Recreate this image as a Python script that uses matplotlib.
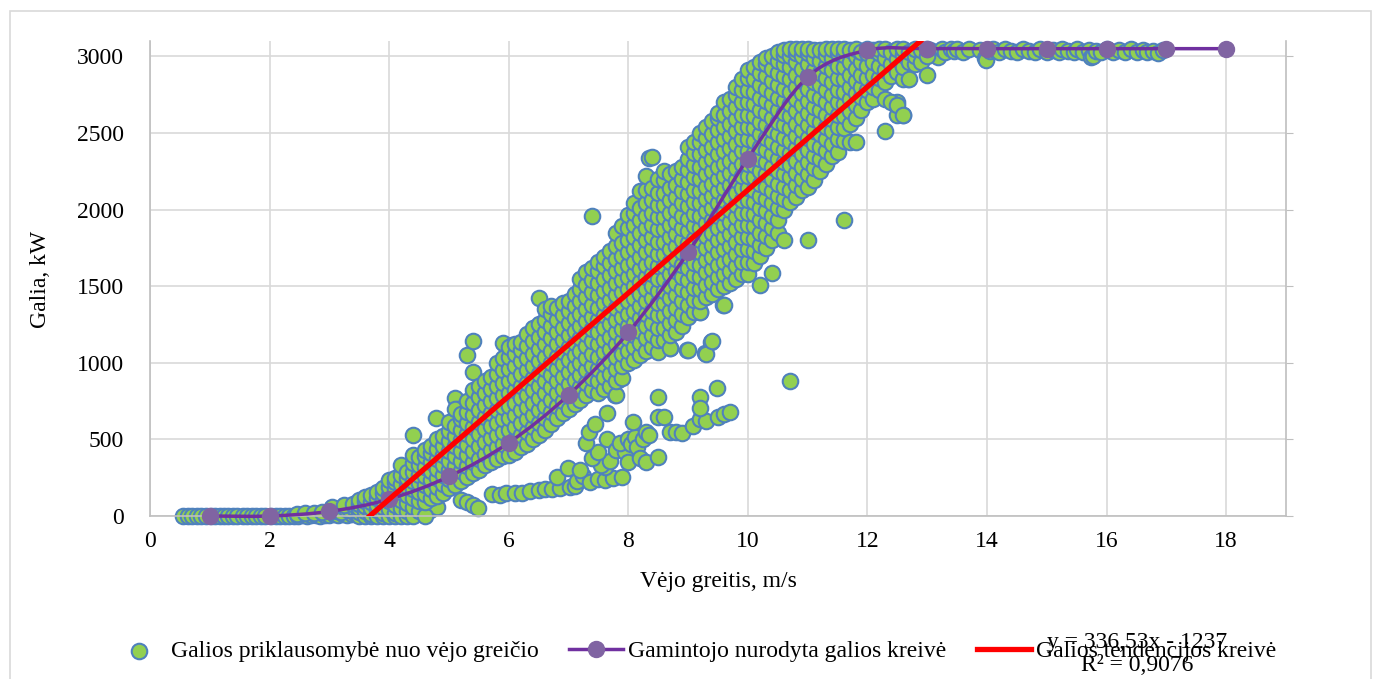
import numpy as np
import matplotlib
matplotlib.use('Agg')
import matplotlib.pyplot as plt
from matplotlib.path import Path
from matplotlib.patches import PathPatch, Rectangle
from matplotlib.lines import Line2D

plt.rcParams['font.family'] = ['Liberation Serif', 'DejaVu Serif']

# --- duomenys (nuskaityta nuo paveikslo) ---
# ramus vėjas: (greitis, galia)
calm_points = [
    (0.56, 0), (0.63, 0), (0.71, 0), (0.78, 0), (0.86, 0), (0.93, 0),
    (1.02, 0), (1.09, 0), (1.17, 0), (1.24, 0), (1.31, 0), (1.38, 0), (1.46, 0),
    (1.55, 0), (1.62, 0), (1.7, 0), (1.77, 0), (1.85, 0), (1.93, 0),
    (2.02, 0), (2.1, 0), (2.18, 0), (2.25, 2), (2.33, 0), (2.41, 3), (2.48, 0),
    (2.56, 5), (2.63, 0), (2.7, 4), (2.78, 6), (2.85, 3), (2.92, 8),
    (3.0, 5), (3.08, 10), (3.15, 6), (3.22, 12), (3.3, 8), (3.38, 15), (3.45, 10),
    (2.46, 15), (2.6, 20), (2.74, 18), (2.88, 28), (3.02, 30), (3.12, 35),
    (3.2, 25), (3.28, 45), (3.35, 40), (3.42, 55), (3.05, 60), (3.25, 70), (3.4, 80),
]

# pagrindinis debesis: greitis ir galios reikšmės ties juo
band_speed = [3.5, 3.6, 3.7, 3.8, 3.9, 4.0, 4.1, 4.2, 4.3, 4.4, 4.5, 4.6, 4.7, 4.8, 4.9,
              5.0, 5.1, 5.2, 5.3, 5.4, 5.5, 5.6, 5.7, 5.8, 5.9, 6.0, 6.1, 6.2, 6.3, 6.4,
              6.5, 6.6, 6.7, 6.8, 6.9, 7.0, 7.1, 7.2, 7.3, 7.4, 7.5, 7.6, 7.7, 7.8, 7.9,
              8.0, 8.1, 8.2, 8.3, 8.4, 8.5, 8.6, 8.7, 8.8, 8.9, 9.0, 9.1, 9.2, 9.3, 9.4,
              9.5, 9.6, 9.7, 9.8, 9.9, 10.0, 10.1, 10.2, 10.3, 10.4, 10.5, 10.6, 10.7,
              10.8, 10.9, 11.0, 11.1, 11.2, 11.3, 11.4, 11.5, 11.6, 11.7, 11.8, 11.9,
              12.0, 12.1, 12.2, 12.3, 12.4, 12.5, 12.6, 12.7, 12.8, 12.9, 13.0]
band_power = [
    [0, 25, 50, 80, 105],
    [0, 35, 65, 95, 125],
    [0, 15, 50, 90, 135],
    [0, 40, 75, 115, 155],
    [0, 20, 60, 105, 150, 185],
    [0, 45, 95, 140, 190, 235],
    [0, 20, 70, 125, 175, 220, 250],
    [0, 50, 105, 155, 210, 265, 330],
    [0, 30, 85, 140, 195, 245, 290],
    [0, 60, 120, 175, 230, 290, 345, 400],
    [30, 100, 155, 215, 270, 330, 385],
    [0, 90, 145, 200, 260, 320, 390, 430],
    [120, 175, 235, 295, 350, 410, 460],
    [130, 190, 250, 310, 370, 435, 500],
    [150, 210, 270, 330, 395, 455, 520],
    [180, 240, 300, 360, 425, 490, 555, 615],
    [200, 265, 325, 390, 455, 520, 585, 700],
    [230, 295, 360, 425, 495, 560, 630, 665],
    [255, 325, 395, 465, 535, 605, 680, 750],
    [280, 350, 425, 500, 580, 660, 740, 820, 940],
    [300, 375, 455, 535, 615, 695, 775, 850],
    [330, 405, 485, 565, 645, 725, 805, 880],
    [350, 430, 510, 590, 670, 750, 830, 910],
    [370, 450, 530, 610, 690, 770, 850, 930, 1000],
    [390, 470, 550, 630, 710, 790, 870, 950, 1030],
    [400, 480, 560, 640, 720, 800, 880, 960, 1040, 1105],
    [420, 500, 580, 660, 740, 820, 900, 980, 1060, 1120],
    [450, 530, 610, 690, 770, 850, 930, 1010, 1085, 1135],
    [470, 550, 630, 710, 790, 870, 950, 1030, 1110, 1190],
    [500, 580, 660, 740, 820, 900, 980, 1060, 1140, 1230],
    [530, 610, 690, 770, 850, 930, 1010, 1090, 1170, 1250],
    [560, 640, 720, 800, 880, 960, 1040, 1120, 1200, 1280, 1350],
    [600, 680, 760, 840, 920, 1000, 1080, 1160, 1240, 1320, 1370],
    [640, 720, 800, 880, 960, 1040, 1120, 1200, 1280, 1360],
    [670, 750, 830, 910, 990, 1070, 1150, 1230, 1310, 1390],
    [700, 780, 860, 940, 1020, 1100, 1180, 1260, 1340, 1405],
    [730, 810, 890, 970, 1050, 1130, 1210, 1290, 1370, 1450],
    [760, 840, 920, 1000, 1080, 1160, 1240, 1320, 1400, 1480, 1550],
    [790, 870, 950, 1030, 1110, 1190, 1270, 1350, 1430, 1510, 1590],
    [820, 900, 980, 1060, 1140, 1220, 1300, 1380, 1460, 1540, 1620],
    [800, 880, 960, 1040, 1120, 1200, 1280, 1360, 1440, 1520, 1600, 1660],
    [830, 910, 990, 1070, 1150, 1230, 1310, 1390, 1470, 1550, 1630, 1690],
    [850, 930, 1010, 1090, 1170, 1250, 1330, 1410, 1490, 1570, 1650, 1730],
    [790, 880, 960, 1040, 1120, 1200, 1280, 1360, 1440, 1520, 1600, 1680, 1760, 1850],
    [900, 980, 1060, 1140, 1220, 1300, 1380, 1460, 1540, 1620, 1700, 1780, 1890],
    [1000, 1080, 1160, 1240, 1320, 1400, 1480, 1560, 1640, 1720, 1800, 1880, 1965],
    [1020, 1100, 1180, 1260, 1340, 1420, 1500, 1580, 1660, 1740, 1820, 1900, 1980, 2040],
    [1050, 1130, 1210, 1290, 1370, 1450, 1530, 1610, 1690, 1770, 1850, 1930, 2010, 2120],
    [1080, 1160, 1240, 1320, 1400, 1480, 1560, 1640, 1720, 1800, 1880, 1960, 2040, 2130, 2220],
    [1100, 1180, 1260, 1340, 1420, 1500, 1580, 1660, 1740, 1820, 1900, 1980, 2060, 2140, 2340],
    [1070, 1150, 1230, 1310, 1390, 1470, 1550, 1630, 1710, 1790, 1870, 1950, 2030, 2110, 2200],
    [1150, 1230, 1310, 1390, 1470, 1550, 1630, 1710, 1790, 1870, 1950, 2030, 2110, 2190, 2250],
    [1095, 1180, 1260, 1340, 1420, 1500, 1580, 1660, 1740, 1820, 1900, 1980, 2060, 2140, 2230],
    [1200, 1280, 1360, 1440, 1520, 1600, 1680, 1760, 1840, 1920, 2000, 2080, 2160, 2250],
    [1240, 1320, 1400, 1480, 1560, 1640, 1720, 1800, 1880, 1960, 2040, 2120, 2200, 2280],
    [1085, 1300, 1380, 1460, 1540, 1620, 1700, 1780, 1860, 1940, 2020, 2100, 2180, 2260, 2330, 2410],
    [1330, 1410, 1490, 1570, 1650, 1730, 1810, 1890, 1970, 2050, 2130, 2210, 2290, 2370, 2440],
    [1333, 1400, 1480, 1560, 1640, 1720, 1800, 1880, 1960, 2040, 2120, 2200, 2280, 2360, 2440, 2500],
    [1060, 1430, 1510, 1590, 1670, 1750, 1830, 1910, 1990, 2070, 2150, 2230, 2310, 2390, 2470, 2540],
    [1140, 1450, 1530, 1610, 1690, 1770, 1850, 1930, 2010, 2090, 2170, 2250, 2330, 2410, 2490, 2580],
    [1480, 1560, 1640, 1720, 1800, 1880, 1960, 2040, 2120, 2200, 2280, 2360, 2440, 2520, 2600, 2630],
    [1380, 1500, 1580, 1660, 1740, 1820, 1900, 1980, 2060, 2140, 2220, 2300, 2380, 2460, 2540, 2620, 2700],
    [1520, 1600, 1680, 1760, 1840, 1920, 2000, 2080, 2160, 2240, 2320, 2400, 2480, 2560, 2640, 2720],
    [1550, 1630, 1710, 1790, 1870, 1950, 2030, 2110, 2190, 2270, 2350, 2430, 2510, 2590, 2670, 2750, 2800],
    [1580, 1660, 1740, 1820, 1900, 1980, 2060, 2140, 2220, 2300, 2380, 2460, 2540, 2620, 2700, 2780, 2850],
    [1580, 1660, 1740, 1820, 1900, 1980, 2060, 2140, 2220, 2300, 2380, 2460, 2540, 2620, 2700, 2780, 2860, 2910],
    [1650, 1730, 1810, 1890, 1970, 2050, 2130, 2210, 2290, 2370, 2450, 2530, 2610, 2690, 2770, 2850, 2930],
    [1507, 1700, 1770, 1850, 1930, 2010, 2090, 2170, 2250, 2330, 2410, 2490, 2570, 2650, 2730, 2810, 2890, 2960],
    [1750, 1830, 1910, 1990, 2070, 2150, 2230, 2310, 2390, 2470, 2550, 2630, 2710, 2790, 2870, 2950, 2990],
    [1584, 1800, 1880, 1960, 2040, 2120, 2200, 2280, 2360, 2440, 2520, 2600, 2680, 2760, 2840, 2920, 3000],
    [1850, 1930, 2010, 2090, 2170, 2250, 2330, 2410, 2490, 2570, 2650, 2730, 2810, 2890, 2970, 3030],
    [1800, 1995, 2070, 2150, 2230, 2310, 2390, 2470, 2550, 2630, 2710, 2790, 2870, 2950, 3010, 3040],
    [2050, 2130, 2210, 2290, 2370, 2450, 2530, 2610, 2690, 2770, 2850, 2930, 3000, 3045],
    [2080, 2160, 2240, 2320, 2400, 2480, 2560, 2640, 2720, 2800, 2880, 2960, 3020, 3050],
    [2125, 2200, 2280, 2360, 2440, 2520, 2600, 2680, 2760, 2840, 2920, 3000, 3050],
    [1800, 2150, 2230, 2310, 2390, 2470, 2550, 2630, 2710, 2790, 2870, 2950, 3020, 3050],
    [2190, 2270, 2350, 2430, 2510, 2590, 2670, 2750, 2830, 2910, 2990, 3040],
    [2250, 2330, 2410, 2490, 2570, 2650, 2730, 2810, 2890, 2970, 3040],
    [2300, 2380, 2460, 2540, 2620, 2700, 2780, 2860, 2940, 3010, 3050],
    [2350, 2430, 2510, 2590, 2670, 2750, 2830, 2910, 2990, 3045],
    [2377, 2460, 2540, 2620, 2700, 2780, 2860, 2940, 3020, 3050],
    [1931, 2450, 2530, 2610, 2690, 2770, 2850, 2930, 3010, 3050],
    [2442, 2560, 2640, 2720, 2800, 2880, 2960, 3040],
    [2442, 2600, 2680, 2760, 2840, 2920, 3000, 3050],
    [2650, 2735, 2800, 2880, 2960, 3030],
    [2700, 2780, 2860, 2940, 3020, 3050],
    [2720, 2800, 2880, 2960, 3040],
    [2780, 2860, 2940, 3020, 3050],
    [2515, 2720, 2830, 2910, 2990, 3045],
    [2700, 2870, 2950, 3030],
    [2620, 2680, 2900, 2980, 3050],
    [2615, 2855, 2930, 3010, 3045],
    [2855, 2960, 3030],
    [2950, 3000, 3050],
    [2960, 3040],
    [2877, 3000, 3050],
]

# apatinė šaka (sumažinta galia)
lower_points = [
    (4.68, 39), (4.8, 56), (5.2, 105), (5.3, 93), (5.4, 75), (5.49, 52),
    (5.72, 143), (5.85, 137), (5.95, 150), (6.1, 150), (6.22, 152), (6.35, 160),
    (6.5, 170), (6.6, 175), (6.72, 176), (6.85, 185), (7.02, 191), (7.1, 196),
    (7.15, 230), (7.25, 260), (7.36, 224), (7.5, 240), (7.61, 235), (7.75, 245),
    (7.89, 252), (6.8, 257), (6.99, 313), (7.19, 300), (7.61, 322), (7.55, 330),
    (7.7, 360), (7.4, 380), (7.5, 420), (7.3, 474), (7.35, 550), (7.45, 600),
    (7.64, 672), (7.65, 500), (7.8, 430), (7.95, 420), (7.86, 475), (7.99, 354),
    (8.0, 500), (8.05, 470), (8.11, 517), (8.14, 452), (8.08, 615), (8.2, 380),
    (8.25, 500), (8.3, 550), (8.3, 354), (8.35, 530), (8.5, 387), (8.5, 776),
    (8.5, 648), (8.6, 648), (8.7, 550), (8.8, 545), (8.9, 543), (9.08, 587),
    (9.2, 630), (9.3, 620), (9.2, 778), (9.2, 705), (9.48, 833), (9.5, 648),
    (9.6, 665), (9.7, 680), (7.78, 790), (7.82, 887), (7.6, 840),
]

# pavieniai taškai
outlier_points = [
    (4.4, 530), (4.79, 639), (5.1, 770), (5.15, 700), (5.2, 660), (5.3, 1050),
    (5.4, 1140), (5.9, 1130), (6.05, 1115), (6.5, 1420), (7.4, 1957), (8.35, 2335),
    (8.7, 1096), (8.98, 1083), (9.2, 1333), (9.28, 1063), (9.39, 1137), (9.59, 1376),
    (10.7, 883), (12.5, 2700), (12.6, 2615), (12.68, 2855),
]

# vardinė galia
rated_points = [
    (13.05, 3040), (13.1, 3030), (13.18, 2996), (13.25, 3045), (13.3, 3030),
    (13.4, 3050), (13.45, 3035), (13.5, 3045), (13.6, 3030), (13.7, 3045),
    (13.88, 3040), (13.96, 2987), (13.99, 2979), (14.05, 3035), (14.1, 3045),
    (14.2, 3030), (14.3, 3045), (14.4, 3035), (14.5, 3030), (14.6, 3045),
    (14.7, 3035), (14.8, 3030), (14.88, 3045), (15.0, 3030), (15.1, 3040),
    (15.2, 3030), (15.25, 3045), (15.35, 3035), (15.45, 3030), (15.5, 3045),
    (15.6, 3030), (15.7, 3040), (15.74, 2996), (15.77, 3000), (15.83, 3035),
    (15.9, 3030), (16.0, 3045), (16.1, 3030), (16.2, 3040), (16.3, 3030),
    (16.4, 3045), (16.5, 3030), (16.6, 3040), (16.67, 3030), (16.77, 3035),
    (16.86, 3020), (16.94, 3040),
]

# gamintojo galios kreivė
curve_speed = [1, 2, 3, 4, 5, 6, 7, 8, 9, 10, 11, 12, 13, 14, 15, 16, 17, 18]
curve_power = [0, 0, 30, 110, 258, 478, 790, 1198, 1720, 2333, 2865, 3040,
               3050, 3050, 3050, 3050, 3050, 3050]

# tendencijos linija
trend_slope = 336.53
trend_intercept = -1237
trend_label = 'y = 336,53x - 1237\nR² = 0,9076'


def smooth_path(xs, ys):
    pts = np.column_stack([xs, ys]).astype(float)
    n = len(pts)
    verts = [pts[0]]
    codes = [Path.MOVETO]
    for i in range(n - 1):
        p0 = pts[max(i - 1, 0)]
        p1 = pts[i]
        p2 = pts[i + 1]
        p3 = pts[min(i + 2, n - 1)]
        verts += [p1 + (p2 - p0) / 6, p2 - (p3 - p1) / 6, p2]
        codes += [Path.CURVE4] * 3
    return Path(verts, codes)


W, H = 1374, 679
fig = plt.figure(figsize=(W / 100, H / 100), dpi=100)
ax = fig.add_axes([150 / W, 163 / H, 1136 / W, 475 / H])

scat_x, scat_y = [], []
for grp in (calm_points, lower_points, outlier_points, rated_points):
    scat_x += [p[0] for p in grp]
    scat_y += [p[1] for p in grp]
for s, col in zip(band_speed, band_power):
    scat_x += [s] * len(col)
    scat_y += col

sc = ax.scatter(scat_x, scat_y, s=125, facecolor='#92D050', edgecolor='#4F81BD',
                linewidths=1.5, zorder=2, clip_on=False)

ax.add_patch(PathPatch(smooth_path(curve_speed, curve_power), fill=False,
                       edgecolor='#7030A0', lw=2.5, zorder=3, clip_on=False))
ax.plot(curve_speed, curve_power, 'o', ms=11.5, color='#8064A2', zorder=4,
        clip_on=False)

tx = np.array([min(scat_x), max(scat_x)])
ax.plot(tx, trend_slope * tx + trend_intercept, color='#FF0000', lw=3.8,
        zorder=5, solid_capstyle='butt')

ax.set_xlim(0, 19)
ax.set_ylim(0, 3100)
ax.set_xticks(range(0, 19, 2))
ax.set_yticks(range(0, 3001, 500))
ax.grid(True, color='#D9D9D9', lw=1.2)
ax.set_axisbelow(True)
for side in ('left', 'right', 'bottom'):
    ax.spines[side].set_color('#BFBFBF')
    ax.spines[side].set_linewidth(1.2)
ax.spines['top'].set_visible(False)
ax.tick_params(axis='x', length=0, pad=11, labelsize=17)
ax.tick_params(axis='y', left=False, right=True, direction='out', length=5,
               color='#BFBFBF', pad=14, labelsize=17)

fig.text(40 / W, 1 - 279 / H, 'Galia, kW', rotation=90, ha='center',
         va='center', fontsize=17)
fig.text(718 / W, 1 - 581 / H, 'Vėjo greitis, m/s', ha='center', va='center',
         fontsize=17)

handles = [
    sc,
    Line2D([], [], color='#7030A0', lw=2.5, marker='o', ms=11.5,
           markerfacecolor='#8064A2', markeredgecolor='#8064A2'),
    Line2D([], [], color='#FF0000', lw=3.8),
]
labels = ['Galios priklausomybė nuo vėjo greičio',
          'Gamintojo nurodyta galios kreivė',
          'Galios tendencijos kreivė']
fig.legend(handles, labels, loc='center', bbox_to_anchor=(0.505, 1 - 651 / H),
           ncol=3, frameon=False, fontsize=17, handlelength=2.3,
           handletextpad=0.2, columnspacing=1.3, scatterpoints=1)

fig.text(1137 / W, 1 - 654 / H, trend_label, ha='center', va='center',
         fontsize=17, linespacing=1.15, zorder=10)

fig.patches.append(Rectangle((10 / W, -0.05), 1361 / W, 1 - 11 / H + 0.05,
                             transform=fig.transFigure, fill=False,
                             edgecolor='#D9D9D9', lw=1.2))

fig.savefig('out.png', dpi=100)
